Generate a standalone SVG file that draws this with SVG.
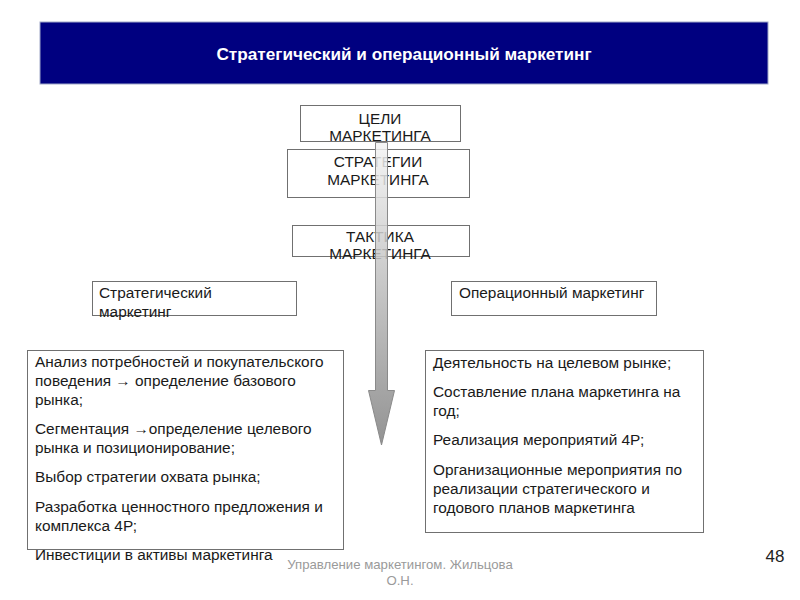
<svg xmlns="http://www.w3.org/2000/svg" width="800" height="600" viewBox="0 0 800 600">
<defs>
<style>
.box{fill:#fff;stroke:#707070;stroke-width:1}
.t{font-family:"Liberation Sans",Arial,sans-serif;font-size:15.4px;fill:#1a1a1a}
.c{text-anchor:middle}
.ft{font-family:"Liberation Sans",Arial,sans-serif;font-size:13.2px;fill:#9a9a9a;text-anchor:middle}
</style>
<linearGradient id="ag" x1="0" y1="0" x2="0" y2="1">
<stop offset="0" stop-color="#f4f4f4"/>
<stop offset="1" stop-color="#808080"/>
</linearGradient>
</defs>
<rect width="800" height="600" fill="#fff"/>
<g id="header">
<rect x="40" y="22" width="728" height="62" fill="#000080" stroke="#9fa8c8" stroke-width="1"/>
<text x="404" y="60" font-family="'Liberation Sans',Arial,sans-serif" font-size="17.2" font-weight="bold" fill="#fff" text-anchor="middle">Стратегический и операционный маркетинг</text>
</g>
<g id="goals">
<rect class="box" x="300.5" y="105.5" width="160" height="36"/>
<text class="t c" x="380" y="124">ЦЕЛИ</text>
<text class="t c" x="380" y="141">МАРКЕТИНГА</text>
</g>
<g id="strategies">
<rect class="box" x="287.5" y="149.5" width="182" height="48"/>
<text class="t c" x="378" y="167">СТРАТЕГИИ</text>
<text class="t c" x="378" y="185">МАРКЕТИНГА</text>
</g>
<g id="tactics">
<rect class="box" x="292.5" y="225.5" width="177" height="31"/>
<text class="t c" x="380" y="242">ТАКТИКА</text>
<text class="t c" x="380" y="259">МАРКЕТИНГА</text>
</g>
<g id="connectors">
<path d="M375.5 142.5 H387.5 V390.5 H394.5 L381.5 445 L368.5 390.5 H375.5 Z" fill="url(#ag)" fill-opacity="0.85" stroke="#8a8a8a" stroke-width="1"/>
</g>
<g id="strategic">
<rect class="box" x="92.5" y="281.5" width="204" height="34"/>
<text class="t" x="99" y="298">Стратегический</text>
<text class="t" x="99" y="317">маркетинг</text>
</g>
<g id="operational">
<rect class="box" x="451.5" y="281.5" width="205" height="34"/>
<text class="t" x="459" y="298">Операционный маркетинг</text>
</g>
<g id="strategic-list">
<rect class="box" x="27.5" y="350.5" width="316" height="199"/>
<text class="t" x="35" y="367">Анализ потребностей и покупательского</text>
<text class="t" x="35" y="386">поведения → определение базового</text>
<text class="t" x="35" y="405">рынка;</text>
<text class="t" x="35" y="434">Сегментация →определение целевого</text>
<text class="t" x="35" y="453">рынка и позиционирование;</text>
<text class="t" x="35" y="482">Выбор стратегии охвата рынка;</text>
<text class="t" x="35" y="512">Разработка ценностного предложения и</text>
<text class="t" x="35" y="531">комплекса 4Р;</text>
<text class="t" x="35" y="560">Инвестиции в активы маркетинга</text>
</g>
<g id="operational-list">
<rect class="box" x="425.5" y="350.5" width="278" height="182"/>
<text class="t" x="433" y="368">Деятельность на целевом рынке;</text>
<text class="t" x="433" y="397">Составление плана маркетинга на</text>
<text class="t" x="433" y="416">год;</text>
<text class="t" x="433" y="445">Реализация мероприятий 4Р;</text>
<text class="t" x="433" y="475">Организационные мероприятия по</text>
<text class="t" x="433" y="494">реализации стратегического и</text>
<text class="t" x="433" y="513">годового планов маркетинга</text>
</g>
<g id="footer">
<text class="ft" x="400" y="569">Управление маркетингом. Жильцова</text>
<text class="ft" x="400" y="585">О.Н.</text>
<text x="775" y="562" font-family="'Liberation Sans',Arial,sans-serif" font-size="17" fill="#222" text-anchor="middle">48</text>
</g>
</svg>
